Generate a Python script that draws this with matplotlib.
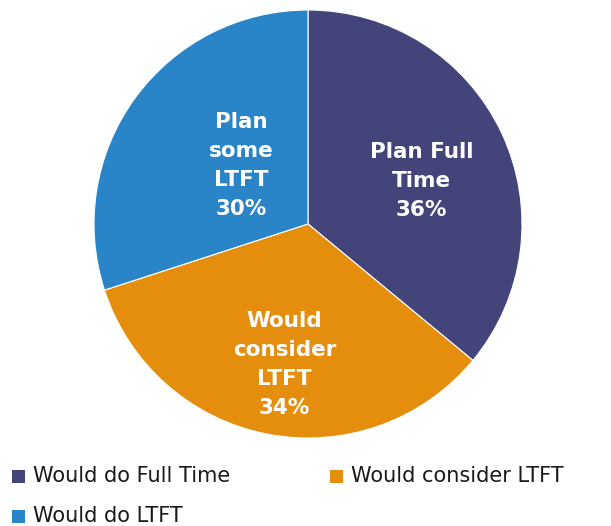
import matplotlib.pyplot as plt
from matplotlib.patches import Rectangle

# slice data (clockwise from 12 o'clock)
slice_labels = ['Plan Full\nTime\n36%', 'Would\nconsider\nLTFT\n34%', 'Plan\nsome\nLTFT\n30%']
legend_labels = ['Would do Full Time', 'Would consider LTFT', 'Would do LTFT']
values = [36, 34, 30]
colors = ['#43447A', '#E58E0D', '#2A84C8']

W, H = 611, 526
fig = plt.figure(figsize=(W / 100, H / 100), dpi=100)
ax = fig.add_axes([94 / W, 88 / H, 428 / W, 428 / H])

wedges, texts = ax.pie(values, colors=colors, startangle=90, counterclock=False,
                       radius=1, wedgeprops={'linewidth': 0.8, 'edgecolor': 'white'})
ax.set_xlim(-1, 1)
ax.set_ylim(-1, 1)
ax.set_aspect('equal')

# label positions in data coords (hand-placed to match reference)
label_pos = [(0.53, 0.2), (-0.11, -0.655), (-0.31, 0.275)]
for (x, y), txt in zip(label_pos, slice_labels):
    ax.text(x, y, txt, ha='center', va='center', color='white',
            fontsize=15.5, fontweight='bold', linespacing=1.56, family='DejaVu Sans')

# legend drawn by hand, row by row (pixel positions from top-left)
legend_xy = [(12, 476), (330, 476), (12, 516)]
for (px, py), lab, col in zip(legend_xy, legend_labels, colors):
    fig.patches.append(Rectangle((px / W, (H - py - 6.5) / H), 13 / W, 13 / H,
                                 facecolor=col, edgecolor='none',
                                 transform=fig.transFigure, figure=fig))
    fig.text((px + 21) / W, (H - py) / H, lab, ha='left', va='center',
             fontsize=15, color='#1a1a1a')

plt.savefig('out.png', dpi=100)
